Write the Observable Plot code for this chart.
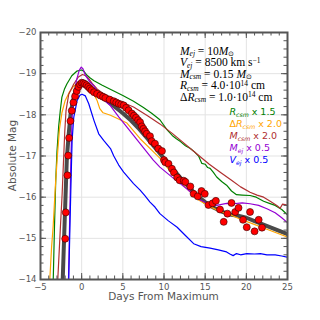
<!DOCTYPE html>
<html><head><meta charset="utf-8">
<script src="https://cdn.jsdelivr.net/npm/d3@7"></script>
<script src="https://cdn.jsdelivr.net/npm/@observablehq/plot@0.6"></script>
<style>html,body{margin:0;padding:0;background:#fff;}</style>
</head><body><div id="chart"></div>
<script>
// ---- data ----
const xMajor = [-5, 0, 5, 10, 15, 20, 25];
const yMajor = [-20, -19, -18, -17, -16, -15, -14];

const obsDays = [-2.0,-1.93,-1.73,-1.64,-1.52,-1.36,-1.2,-1.0,-0.8,-0.6,-0.4,-0.2,0,0.2,0.4,0.6,0.8,1.0,1.2,1.5,1.87,2.27,2.6,2.88,3.4,3.9,4.2,4.5,4.8,5.1,5.4,5.7,6.1,6.35,6.6,6.85,7.1,7.3,7.5,7.7,7.9,8.3,8.5,8.9,9.3,9.75,10.0,10.15,10.55,10.96,11.2,11.6,11.9,12.4,12.6,13.2,13.6,14.1,14.55,14.95,15.4,15.9,16.3,16.8,17.25,17.7,18.2,18.65,19.05,19.6,20.05,20.45,21.0,21.5,21.9];
const obsMag  = [-14.99,-15.63,-16.53,-17.01,-17.44,-17.85,-18.1,-18.3,-18.45,-18.58,-18.68,-18.74,-18.78,-18.77,-18.75,-18.72,-18.68,-18.64,-18.6,-18.55,-18.51,-18.47,-18.44,-18.41,-18.37,-18.33,-18.3,-18.27,-18.25,-18.23,-18.17,-18.11,-18.03,-17.98,-17.93,-17.87,-17.82,-17.72,-17.66,-17.6,-17.54,-17.48,-17.36,-17.3,-17.18,-17.12,-16.9,-16.85,-16.81,-16.69,-16.6,-16.48,-16.41,-16.4,-16.37,-16.26,-16.08,-16.02,-16.15,-16.08,-15.81,-15.85,-15.91,-15.70,-15.40,-15.60,-15.86,-15.64,-15.74,-15.45,-15.27,-15.64,-15.17,-15.45,-15.26];

const baseDays = [-2.3,-2.05,-1.8,-1.57,-1.36,-1.1,-0.8,-0.5,-0.2,0.1,0.5,1,2,3,4,5,6,7,8,9,10,11,12,13,14,15,16,17,18,19,20,21,22,23,24,25];
const baseMag  = [-14.0,-15.5,-16.95,-17.54,-18.0,-18.3,-18.55,-18.7,-18.77,-18.79,-18.76,-18.66,-18.49,-18.35,-18.2,-18.04,-17.86,-17.65,-17.42,-17.18,-16.94,-16.7,-16.47,-16.25,-16.04,-15.88,-15.75,-15.65,-15.58,-15.55,-15.5,-15.42,-15.34,-15.26,-15.18,-15.1];

const rcsmDays = [-3.45,-3.3,-3.15,-3.0,-2.8,-2.6,-2.4,-2.1,-1.8,-1.2,-0.6,0,0.3,0.65,1.0,1.5,2.5,3.9,5,6.3,7.5,8.5,9.5,10.35,11,11.5,12,12.6,13.2,13.7,14.2,14.6,15.0,15.3,15.6,16.0,16.4,17,17.6,18.2,18.8,19.5,20.45,21.2,22.1,22.8,23.5,24.3,25];
const rcsmMag  = [-14,-15.3,-16.4,-17.1,-17.7,-18.1,-18.43,-18.62,-18.75,-18.95,-19.06,-19.09,-19.05,-18.96,-18.9,-18.83,-18.72,-18.58,-18.47,-18.33,-18.18,-18.04,-17.88,-17.64,-17.5,-17.42,-17.35,-17.25,-17.18,-17.1,-17.0,-16.82,-16.8,-16.72,-16.7,-16.6,-16.49,-16.38,-16.29,-16.15,-16.06,-16.05,-16.04,-16.0,-15.9,-15.85,-15.8,-15.7,-15.57];

const drDays = [-3.87,-3.65,-3.46,-3.2,-2.95,-2.7,-2.4,-2.0,-1.5,-0.95,-0.3,0.2,0.6,1.06,1.5,1.87,2.2,2.6,3.5,5.5,7.1,9.5,11.2,12.8,14.2,15.6,16.8,18,19.2,20.8,22.9,25];
const drMag  = [-14,-14.8,-15.3,-16.25,-17.0,-17.65,-18.05,-18.35,-18.55,-18.7,-18.79,-18.8,-18.74,-18.63,-18.5,-18.35,-18.15,-18.05,-17.99,-17.8,-17.42,-16.95,-16.52,-16.2,-15.93,-15.77,-15.65,-15.58,-15.47,-15.35,-15.19,-15.03];

const mcsmDays = [-2.9,-2.6,-2.37,-2.2,-2.05,-1.9,-1.57,-0.96,-0.4,0.1,0.5,0.86,1.3,1.87,2.6,3.5,5,6.3,8,9.5,11,12.5,14,15.5,17,18.2,19.3,20.45,21.3,22.1,22.9,23.7,24.1,24.4,24.7,25];
const mcsmMag  = [-14,-15.2,-16.08,-16.9,-17.6,-18.1,-18.5,-18.75,-18.92,-18.98,-18.95,-18.88,-18.76,-18.63,-18.52,-18.43,-18.3,-18.19,-17.98,-17.78,-17.55,-17.3,-17.05,-16.8,-16.58,-16.41,-16.25,-16.12,-16.05,-16.0,-15.9,-15.8,-15.73,-15.83,-15.82,-15.8];

const mejDays = [-1.6,-1.45,-1.3,-1.16,-0.96,-0.64,-0.3,-0.05,0.15,0.45,1.0,1.5,2.27,3.5,4.5,5.5,7.1,8.7,9.5,11.2,12.8,14.2,15.2,16.4,17.6,18.4,19.5,20.45,21.5,22.5,23.5,24.3,25];
const mejMag  = [-14,-15.5,-17.0,-17.95,-18.43,-18.83,-19.08,-19.16,-19.12,-18.96,-18.8,-18.7,-18.45,-18.22,-17.95,-17.7,-17.3,-16.9,-16.73,-16.45,-16.2,-15.95,-15.86,-15.8,-15.85,-15.84,-15.86,-15.84,-15.8,-15.72,-15.62,-15.5,-15.38];

const vejDays = [-1.57,-1.4,-1.25,-1.16,-0.96,-0.55,-0.2,0.05,0.45,0.86,1.2,1.5,2.07,2.67,3.5,3.9,4.5,5.1,5.7,6.3,7.1,7.7,8.3,8.9,9.5,10.5,11.6,12.6,13.6,14.5,15.6,16.6,17.6,18.0,18.4,18.8,19.3,20.05,21,21.7,22.5,23.5,24.3,25];
const vejMag  = [-14,-15.5,-16.7,-17.38,-17.94,-18.35,-18.48,-18.5,-18.46,-18.27,-18.05,-17.86,-17.54,-17.38,-17.18,-17.0,-16.78,-16.61,-16.47,-16.33,-16.17,-16.03,-15.88,-15.76,-15.6,-15.43,-15.27,-15.07,-14.87,-14.8,-14.76,-14.72,-14.67,-14.62,-14.58,-14.63,-14.6,-14.63,-14.62,-14.63,-14.6,-14.6,-14.57,-14.54];

const seriesColors = ["green", "orange", "#b03030", "darkviolet", "blue"];

// ---- build tables ----
const zip = (xs, ys) => xs.map((x, i) => ({x, y: ys[i]}));
const obs = zip(obsDays, obsMag);
const base = zip(baseDays, baseMag);
const variants = [zip(rcsmDays, rcsmMag), zip(drDays, drMag), zip(mcsmDays, mcsmMag), zip(mejDays, mejMag), zip(vejDays, vejMag)];

const xMinor = d3.range(xMajor[0], xMajor[xMajor.length-1] + 0.001, 1);
const yMinor = d3.range(yMajor[0], yMajor[yMajor.length-1] + 0.001, 0.2).map(v => +v.toFixed(2));

const W = 320, H = 320, mL = 40, mR = 33, mT = 32, mB = 41;
const pw = W - mL - mR, ph = H - mT - mB;
const fmt = d => d < 0 ? "\u2212" + Math.abs(d) : String(d);
const tickColor = "#555";

const marks = [
  Plot.gridX(xMajor, {stroke: "#e3e3e3", strokeOpacity: 1, strokeWidth: 1}),
  Plot.gridY(yMajor, {stroke: "#e3e3e3", strokeOpacity: 1, strokeWidth: 1}),
  Plot.line(base, {x: "x", y: "y", stroke: "#404040", strokeWidth: 4, strokeOpacity: 0.95, clip: true}),
  ...variants.map((v, i) => Plot.line(v, {x: "x", y: "y", stroke: seriesColors[i], strokeWidth: 1.2, clip: true})),
  Plot.dot(obs, {x: "x", y: "y", r: 3.5, fill: "red", stroke: "#300", strokeWidth: 0.6, clip: true}),
  // inward ticks on all four sides
  Plot.tickY(yMajor, {y: d => d, stroke: tickColor, insetRight: pw - 6}),
  Plot.tickY(yMajor, {y: d => d, stroke: tickColor, insetLeft: pw - 6}),
  Plot.tickY(yMinor, {y: d => d, stroke: tickColor, insetRight: pw - 3.5}),
  Plot.tickY(yMinor, {y: d => d, stroke: tickColor, insetLeft: pw - 3.5}),
  Plot.tickX(xMajor, {x: d => d, stroke: tickColor, insetTop: ph - 6}),
  Plot.tickX(xMajor, {x: d => d, stroke: tickColor, insetBottom: ph - 6}),
  Plot.tickX(xMinor, {x: d => d, stroke: tickColor, insetTop: ph - 3.5}),
  Plot.tickX(xMinor, {x: d => d, stroke: tickColor, insetBottom: ph - 3.5}),
  Plot.frame({stroke: tickColor, strokeWidth: 2}),
  Plot.axisX(xMajor, {tickSize: 0, tickPadding: 4, tickFormat: fmt, label: null, fill: "#555", fontSize: 8.5}),
  Plot.axisY(yMajor, {tickSize: 0, tickPadding: 4, tickFormat: fmt, label: null, fill: "#555", fontSize: 8.5})
];

const svg = Plot.plot({
  width: W, height: H,
  marginLeft: mL, marginRight: mR, marginTop: mT, marginBottom: mB,
  x: {domain: [xMajor[0], xMajor[xMajor.length-1]]},
  y: {domain: [yMajor[0], yMajor[yMajor.length-1]], reverse: true},
  style: {fontFamily: "DejaVu Sans", fontSize: "9px", background: "#fff"},
  marks
});
document.getElementById("chart").appendChild(svg);

// ---- texts with sub/superscripts, each piece its own measured text ----
const sel = d3.select(svg);
function richText(x, y, parts, opts) {
  const g = sel.append("g").attr("fill", opts.fill || "#000");
  let cx = x;
  for (const p of parts) {
    const size = (p.sub || p.sup) ? opts.size * 0.65 : opts.size;
    const dy = p.sub ? opts.size * 0.17 : p.sup ? -opts.size * 0.3 : 0;
    const t = g.append("text").attr("x", cx).attr("y", y + dy).attr("text-anchor", "start")
      .attr("font-family", p.fam || opts.family).attr("font-size", size).text(p.t);
    if (p.i) t.attr("font-style", "italic");
    cx += t.node().getComputedTextLength();
  }
  return g;
}

// axis titles
sel.append("text").attr("transform", `translate(15.5,${mT + ph/2}) rotate(-90)`)
  .attr("text-anchor", "middle").attr("font-family", "DejaVu Sans").attr("font-size", 10.5).attr("fill", "#555")
  .text("Absolute Mag");
sel.append("text").attr("x", mL + pw/2).attr("y", 300)
  .attr("text-anchor", "middle").attr("font-family", "DejaVu Sans").attr("font-size", 10.5).attr("fill", "#555")
  .text("Days From Maximum");

// parameter block
const serif = {family: "Liberation Serif", size: 11.5, fill: "#000"};
const paramLines = [
  [{t:"M",i:1},{t:"ej",i:1,sub:1},{t:" = 10"},{t:"M",i:1},{t:"\u2299",sub:1}],
  [{t:"V",i:1},{t:"ej",i:1,sub:1},{t:" = 8500 km s"},{t:"\u22121",sup:1}],
  [{t:"M",i:1},{t:"csm",i:1,sub:1},{t:" = 0.15 "},{t:"M",i:1},{t:"\u2299",sub:1}],
  [{t:"R",i:1},{t:"csm",i:1,sub:1},{t:" = 4.0\u00b710"},{t:"14",sup:1},{t:" cm"}],
  [{t:"\u0394"},{t:"R",i:1},{t:"csm",i:1,sub:1},{t:" = 1.0\u00b710"},{t:"14",sup:1},{t:" cm"}]
];
paramLines.forEach((parts, i) => richText(180, 54.5 + i * 11.5, parts, serif));

// legend
const legendLines = [
  [{t:"R",i:1},{t:"csm",i:1,sub:1},{t:" x 1.5"}],
  [{t:"\u0394"},{t:"R",i:1},{t:"csm",i:1,sub:1},{t:" x 2.0"}],
  [{t:"M",i:1},{t:"csm",i:1,sub:1},{t:" x 2.0"}],
  [{t:"M",i:1},{t:"ej",i:1,sub:1},{t:" x 0.5"}],
  [{t:"V",i:1},{t:"ej",i:1,sub:1},{t:" x 0.5"}]
];
legendLines.forEach((parts, i) => richText(229.5, 115 + i * 12, parts, {family: "DejaVu Sans", size: 9.5, fill: seriesColors[i]}));
</script>
</body></html>
